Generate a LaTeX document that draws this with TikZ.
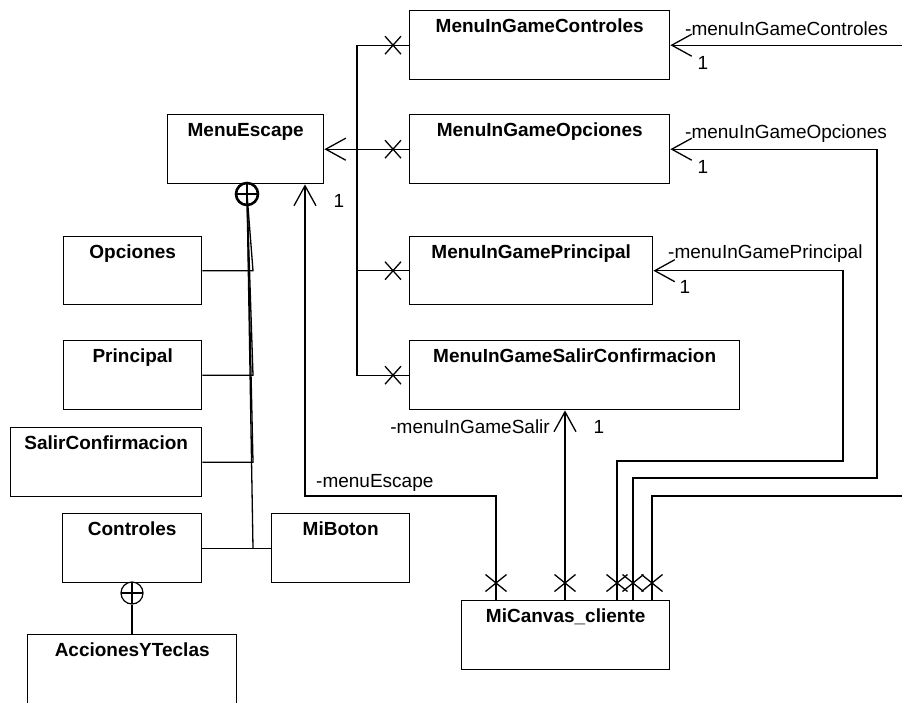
\documentclass[tikz,border=0pt]{standalone}
\usepackage{fontspec}
\setmainfont{Liberation Sans}
\usetikzlibrary{arrows.meta,shapes.misc}
\begin{document}
\begin{tikzpicture}[x=1pt,y=-1pt,
  cls/.style={draw, line width=1.4pt, rectangle, inner sep=0pt, anchor=north west},
  ttl/.style={font=\bfseries\fontsize{19}{23}\selectfont, anchor=base, inner sep=0pt},
  lbl/.style={font=\fontsize{19}{23}\selectfont, inner sep=0pt},
  link/.style={line width=1.3pt},
  nav/.style={link, -{Straight Barb[length=20pt,width=22pt]}},
  xm/.style={cross out, draw, line width=1.3pt, inner sep=0pt, outer sep=0pt,
             minimum width=16pt, minimum height=18pt},
  xmb/.style={xm, minimum width=21pt, minimum height=17pt},
  nest/.style={circle, draw, inner sep=0pt, minimum size=22pt,
    path picture={\draw[line width=\pgflinewidth]
      (path picture bounding box.north) -- (path picture bounding box.south)
      (path picture bounding box.west) -- (path picture bounding box.east);}}
]
\useasboundingbox (0,0) rectangle (902,702);
\fill[white] (0,0) rectangle (902,702);
\clip (0,0) rectangle (902,702);

% ---- class boxes ----
\node[cls, minimum width=156pt, minimum height=69pt] (me)   at (167,114) {};
\node[cls, minimum width=138pt, minimum height=68pt] (opc)  at (63,236) {};
\node[cls, minimum width=138pt, minimum height=69pt] (pri)  at (63,340) {};
\node[cls, minimum width=191pt, minimum height=69pt] (sal)  at (10,427) {};
\node[cls, minimum width=139pt, minimum height=69pt] (ctl)  at (62,513) {};
\node[cls, minimum width=209pt, minimum height=100pt] (ayt) at (27,634) {};
\node[cls, minimum width=138pt, minimum height=69pt] (bot)  at (271,513) {};
\node[cls, minimum width=260pt, minimum height=69pt] (migc) at (409,10) {};
\node[cls, minimum width=260pt, minimum height=69pt] (migo) at (409,114) {};
\node[cls, minimum width=243pt, minimum height=68pt] (migp) at (409,236) {};
\node[cls, minimum width=330pt, minimum height=69pt] (migs) at (409,340) {};
\node[cls, minimum width=208pt, minimum height=69pt] (mc)   at (461,600) {};

% ---- class names ----
\node[ttl] (tme)   at ([yshift=-22pt]me.north)   {MenuEscape};
\node[ttl] (topc)  at ([yshift=-22pt]opc.north)  {Opciones};
\node[ttl] (tpri)  at ([yshift=-22pt]pri.north)  {Principal};
\node[ttl] (tsal)  at ([yshift=-22pt]sal.north)  {SalirConfirmacion};
\node[ttl] (tctl)  at ([yshift=-22pt]ctl.north)  {Controles};
\node[ttl] (tayt)  at ([yshift=-22pt]ayt.north)  {AccionesYTeclas};
\node[ttl] (tbot)  at ([yshift=-22pt]bot.north)  {MiBoton};
\node[ttl] (tmigc) at ([yshift=-22pt]migc.north) {MenuInGameControles};
\node[ttl] (tmigo) at ([yshift=-22pt]migo.north) {MenuInGameOpciones};
\node[ttl] (tmigp) at ([yshift=-22pt]migp.north) {MenuInGamePrincipal};
\node[ttl] (tmigs) at ([yshift=-22pt]migs.north) {MenuInGameSalirConfirmacion};
\node[ttl] (tmc)   at ([yshift=-22pt]mc.north)   {MiCanvas\_cliente};

% ---- nesting (inner classes of MenuEscape and Controles) ----
\node[nest, line width=2.6pt] (ns1) at (247,194) {};
\coordinate (k1) at (253,0);
\draw[link] (ns1.center) -- (k1 |- opc.east) -- (opc.east);
\draw[link] (ns1.center) -- (k1 |- pri.east) -- (pri.east);
\draw[link] (ns1.center) -- (k1 |- sal.east) -- (sal.east);
\draw[link] (ns1.center) -- (k1 |- ctl.east);
\draw[link] (ctl.east) -- (bot.west);

\node[nest, line width=1.2pt] (ns2) at (132,593) {};
\draw[link] (ns2.south) -- (ayt.north -| ns2.south);

% ---- menus held by MenuEscape ----
\coordinate (tr) at (357,0);
\coordinate (xc) at (393,0);
\draw[link] (migc.west) -| (tr |- migs.west) -- (migs.west);
\draw[link] (migp.west) -- (tr |- migp.west);
\draw[nav] (migo.west) -- (me.east);
\node[xm] (xa) at (migc.west -| xc) {};
\node[xm] (xb) at (migo.west -| xc) {};
\node[xm] (xd) at (migp.west -| xc) {};
\node[xm] (xe) at (migs.west -| xc) {};
\node[lbl, anchor=base] (one0) at (339,207) {1};

% ---- associations of MiCanvas_cliente ----
\coordinate (eA) at (496,496);
\coordinate (eB) at (305,0);
\draw[nav] (mc.north -| eA) -- (eA) -| (me.south -| eB);
\node[lbl, anchor=base west] (lme) at (316,487) {-menuEscape};

\coordinate (sA) at (565,0);
\draw[nav] (mc.north -| sA) -- (migs.south -| sA);
\node[lbl, anchor=base east] (lms) at (550,433) {-menuInGameSalir};
\node[lbl, anchor=base] (one4) at (599,433) {1};

\coordinate (pA) at (617,461);
\coordinate (pB) at (843,0);
\draw[nav] (mc.north -| pA) -- (pA) -| (migp.east -| pB) -- (migp.east);
\node[lbl, anchor=base west] (lmp) at (668,258) {-menuInGamePrincipal};
\node[lbl, anchor=base] (one3) at (685,293) {1};

\coordinate (oA) at (633,478);
\coordinate (oB) at (877,0);
\draw[nav] (mc.north -| oA) -- (oA) -| (migo.east -| oB) -- (migo.east);
\node[lbl, anchor=base west] (lmo) at (685,138) {-menuInGameOpciones};
\node[lbl, anchor=base] (one2) at (703,173) {1};

\coordinate (cA) at (652,496);
\coordinate (cB) at (930,0);
\draw[nav] (mc.north -| cA) -- (cA) -| (migc.east -| cB) -- (migc.east);
\node[lbl, anchor=base west] (lmc) at (685,35) {-menuInGameControles};
\node[lbl, anchor=base] (one1) at (703,69) {1};

\coordinate (yb) at (0,583);
\node[xmb] (xf) at (yb -| eA) {};
\node[xmb] (xg) at (yb -| sA) {};
\node[xmb] (xh) at (yb -| pA) {};
\node[xmb] (xi) at (yb -| oA) {};
\node[xmb] (xj) at (yb -| cA) {};
\end{tikzpicture}
\end{document}
